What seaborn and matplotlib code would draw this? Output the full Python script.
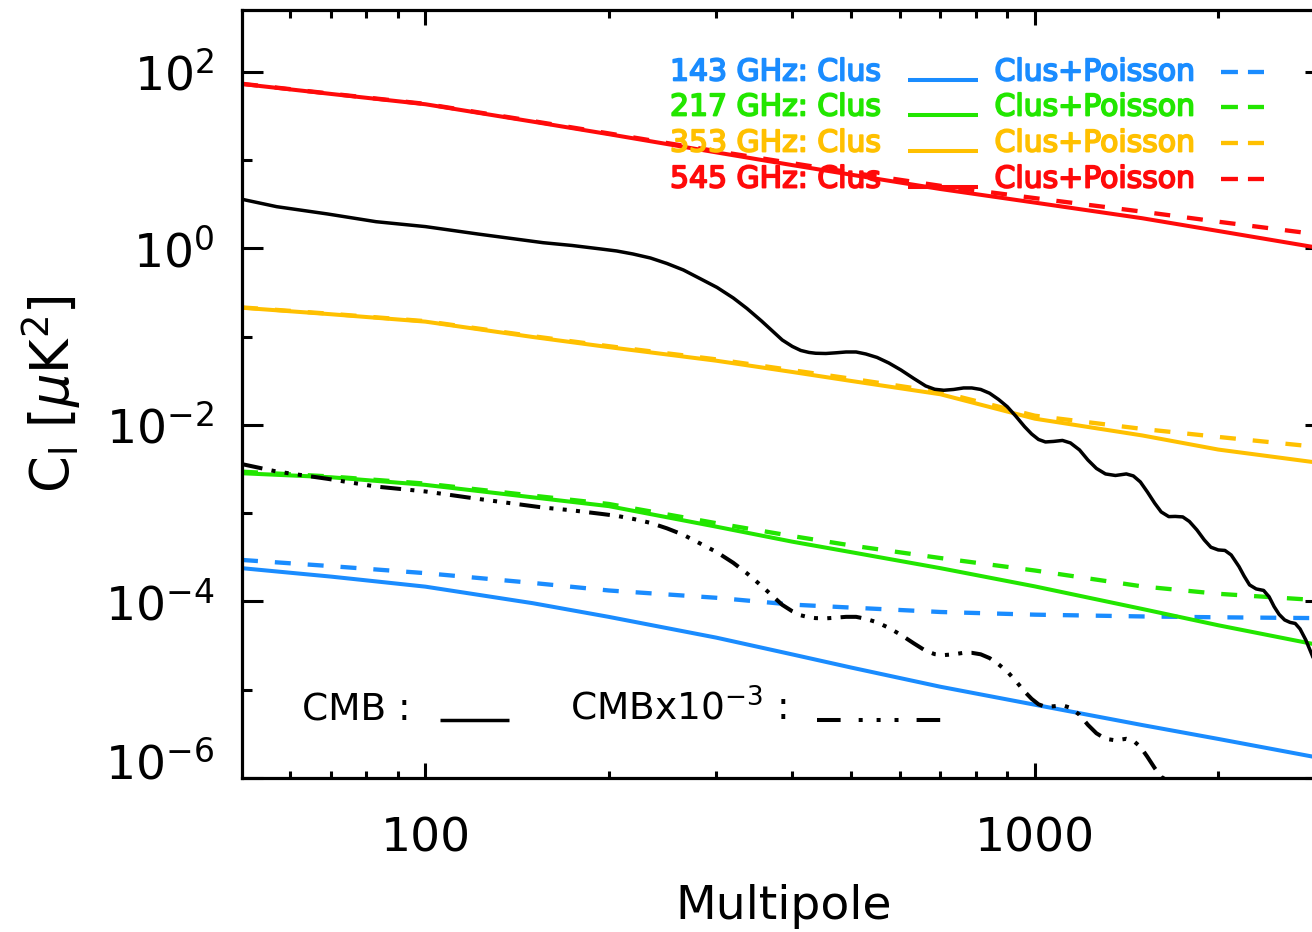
import numpy as np
import pandas as pd
import matplotlib
matplotlib.use("Agg")
import matplotlib.pyplot as plt
import matplotlib.ticker as mticker
import matplotlib.patheffects as pe
import matplotlib.transforms as mtransforms
import seaborn as sns

# ---------------------------------------------------------------------------
# Angular power spectra of the infrared-galaxy background (clustered term and
# clustered + Poisson term) at four Planck frequencies, plus the CMB spectrum.
# ---------------------------------------------------------------------------
ell = [50, 70, 100, 150, 200, 300, 400, 500, 700, 1000, 1500, 2000, 3000]

clus_143 = [2.38e-4, 1.91e-4, 1.47e-4, 9.55e-5, 6.68e-5, 3.89e-5, 2.51e-5,
            1.78e-5, 1.08e-5, 6.76e-6, 3.98e-6, 2.77e-6, 1.64e-6]
tot_143 = [2.95e-4, 2.51e-4, 2.09e-4, 1.62e-4, 1.33e-4, 1.10e-4, 9.2e-5,
           8.51e-5, 7.59e-5, 7.08e-5, 6.76e-5, 6.61e-5, 6.46e-5]

clus_217 = [2.83e-3, 2.55e-3, 2.09e-3, 1.51e-3, 1.20e-3, 7.03e-4, 4.75e-4,
            3.61e-4, 2.38e-4, 1.48e-4, 8.22e-5, 5.37e-5, 3.09e-5]
tot_217 = [2.95e-3, 2.60e-3, 2.16e-3, 1.58e-3, 1.27e-3, 7.7e-4, 5.5e-4,
           4.3e-4, 3.1e-4, 2.24e-4, 1.48e-4, 1.22e-4, 1.02e-4]

clus_353 = [0.212, 0.179, 0.1476, 0.0989, 0.0759, 0.0533, 0.0397,
            0.0314, 0.0222, 0.01175, 0.00759, 0.00525, 0.00363]
tot_353 = [0.214, 0.181, 0.1495, 0.101, 0.0778, 0.0552, 0.0416,
           0.0333, 0.0235, 0.0127, 0.0090, 0.0073, 0.0055]

clus_545 = [72.6, 56.0, 42.8, 27.2, 19.6, 12.2, 8.75, 6.81, 4.69, 3.29,
            2.19, 1.57, 0.98]
tot_545 = [73.0, 56.4, 43.2, 27.6, 20.0, 12.6, 9.2, 7.2, 5.1, 3.7, 2.6,
           2.0, 1.4]

ell_cmb = [50, 57, 69, 83, 100, 122, 156, 174, 194, 206, 219, 234, 249,
           265, 282, 301, 320, 337, 356, 371, 385, 400, 413, 426, 437, 454,
           472, 490, 509, 528, 551, 576, 603, 633, 662, 685, 709, 736, 764,
           788, 815, 843, 872, 901, 930, 962, 988, 1014, 1041, 1073, 1110,
           1144, 1184, 1222, 1262, 1306, 1356, 1413, 1451, 1490, 1530, 1573,
           1612, 1659, 1700, 1749, 1793, 1845, 1897, 1945, 2000, 2051, 2100,
           2163, 2205, 2251, 2308, 2374, 2424, 2470, 2517, 2570, 2623, 2675,
           2724, 2784, 2850, 3000]
cl_cmb = [3.59, 2.96, 2.45, 2.00, 1.76, 1.45, 1.157, 1.076, 0.982, 0.932,
          0.862, 0.776, 0.673, 0.568, 0.455, 0.360, 0.2737, 0.208, 0.1502,
          0.1157, 0.0915, 0.0773, 0.0696, 0.0661, 0.0647, 0.0643, 0.0655,
          0.0669, 0.0669, 0.0635, 0.0580, 0.0502, 0.0418, 0.0335, 0.02757,
          0.0253, 0.02465, 0.02518, 0.02618, 0.02618, 0.02518, 0.0228,
          0.01939, 0.01607, 0.01261, 0.00954, 0.00788, 0.00683, 0.0064,
          0.00649, 0.00666, 0.00624, 0.0052, 0.0040, 0.00321, 0.00278,
          0.00267, 0.00278, 0.00264, 0.002256, 0.001738, 0.001295, 0.001032,
          0.000913, 0.000918, 0.000906, 0.000805, 0.000645, 0.000497,
          0.000411, 0.000383, 0.000378, 0.000336, 0.000248, 0.000194,
          0.0001538, 0.0001385, 0.0001332, 0.0001125, 8.73e-5, 7.13e-5,
          6.17e-5, 5.79e-5, 5.63e-5, 4.88e-5, 3.66e-5, 2.48e-5, 1.0e-5]
cmb_scale = 1e-3

freqs = ["143", "217", "353", "545"]
clus = [clus_143, clus_217, clus_353, clus_545]
tot = [tot_143, tot_217, tot_353, tot_545]
colors = ["#1A8CFF", "#22E600", "#FFC000", "#FF0A0A"]

y_major = [1e-6, 1e-4, 1e-2, 1e0, 1e2]
y_minor = [1e-5, 1e-3, 1e-1, 1e1]
x_major = [100, 1000]
x_minor = [60, 70, 80, 90, 200, 300, 400, 500, 600, 700, 800, 900, 2000, 3000]

# ---------------------------------------------------------------------------
sns.set_theme(style="ticks")
plt.rcParams["font.family"] = ["DejaVu Sans"]
plt.rcParams["mathtext.fontset"] = "dejavusans"
plt.rcParams["lines.scale_dashes"] = False
plt.rcParams["lines.solid_joinstyle"] = "round"
plt.rcParams["axes.linewidth"] = 2.3

fig = plt.figure(figsize=(13.12, 9.32), dpi=100)
ax = fig.add_axes([0.18445, 0.16524, 0.8259, 0.82403])
ax.set_xscale("log")
ax.set_yscale("log")

dash_fg = (0, (11.5, 12.2))
dash_cmb = (0, (15, 6.7, 2.9, 6.7, 2.9, 6.7, 2.9, 6.7))

for c_tot, c_clus, col in zip(tot, clus, colors):
    sns.lineplot(x=ell, y=c_tot, ax=ax, color=col, lw=3.1, linestyle=dash_fg,
                 estimator=None, sort=False, dash_capstyle="butt")
    sns.lineplot(x=ell, y=c_clus, ax=ax, color=col, lw=2.9,
                 estimator=None, sort=False)

sns.lineplot(x=ell_cmb, y=cl_cmb, ax=ax, color="black", lw=2.5,
             estimator=None, sort=False)
sns.lineplot(x=ell_cmb, y=np.array(cl_cmb) * cmb_scale, ax=ax, color="black",
             lw=2.9, linestyle=dash_cmb, estimator=None, sort=False,
             dash_capstyle="butt")

ax.set_xlim(50, 3000)
ax.set_ylim(1e-6, 500)

# axes, ticks and labels
for sp in ax.spines.values():
    sp.set_color("black")
    sp.set_linewidth(2.3)

ax.xaxis.set_major_locator(mticker.FixedLocator(x_major))
ax.xaxis.set_minor_locator(mticker.FixedLocator(x_minor))
ax.xaxis.set_major_formatter(mticker.FixedFormatter([str(v) for v in x_major]))
ax.xaxis.set_minor_formatter(mticker.NullFormatter())
ax.yaxis.set_major_locator(mticker.FixedLocator(y_major))
ax.yaxis.set_minor_locator(mticker.FixedLocator(y_minor))
ax.yaxis.set_major_formatter(mticker.LogFormatterSciNotation())
ax.yaxis.set_minor_formatter(mticker.NullFormatter())

ax.tick_params(axis="both", which="both", direction="in", top=True,
               right=True, width=2.2, color="black", labelcolor="black")
ax.tick_params(axis="x", which="major", length=10.8, pad=28, labelsize=34)
ax.tick_params(axis="x", which="minor", length=5.4)
ax.tick_params(axis="y", which="major", length=15, pad=20, labelsize=34)
ax.tick_params(axis="y", which="minor", length=7.5)

ax.set_xlabel("Multipole", fontsize=34, labelpad=16, color="black")
ax.set_ylabel(r"C$_\mathrm{l}$ [$\mu$K$^2$]", fontsize=38, labelpad=16,
              color="black")

# frequency key
row_y = [0.9193, 0.8737, 0.8268, 0.7799]
for fq, col, yy in zip(freqs, colors, row_y):
    fx = [pe.withStroke(linewidth=1.3, foreground=col)]
    ax.text(0.395, yy, f"{fq} GHz: Clus", transform=ax.transAxes,
            color=col, fontsize=21.5, va="center", ha="left", path_effects=fx)
    ax.plot([0.6146, 0.6792], [yy - 0.0105] * 2, transform=ax.transAxes,
            color=col, lw=2.9, solid_capstyle="butt")
    ax.text(0.6945, yy, "Clus+Poisson", transform=ax.transAxes,
            color=col, fontsize=21.5, va="center", ha="left", path_effects=fx)
    ax.plot([0.9034, 0.9435], [yy] * 2, transform=ax.transAxes, color=col,
            lw=3.1, linestyle=(0, (12.2, 7.2)), dash_capstyle="butt")

# CMB key
base_y = 0.0755
ax.text(0.0554, base_y, "CMB :", transform=ax.transAxes, fontsize=27,
        va="baseline", ha="left", color="black")
ax.plot([0.1827, 0.2464], [base_y] * 2, transform=ax.transAxes,
        color="black", lw=2.5, solid_capstyle="butt")
ax.text(0.3027, base_y, r"CMBx10$^{-3}$ :", transform=ax.transAxes,
        fontsize=27, va="baseline", ha="left", color="black")
ax.plot([0.5306, 0.6475], [base_y] * 2, transform=ax.transAxes,
        color="black", lw=2.9, dash_capstyle="butt",
        linestyle=(0, (17, 13, 2.9, 10, 2.9, 10, 2.9, 13)))

fig.canvas.draw()
low = ax.yaxis.get_major_ticks()[0].label1
low.set_transform(low.get_transform() +
                  mtransforms.ScaledTranslation(0, 0.17, fig.dpi_scale_trans))

fig.savefig("out.png", dpi=100, facecolor="white")
